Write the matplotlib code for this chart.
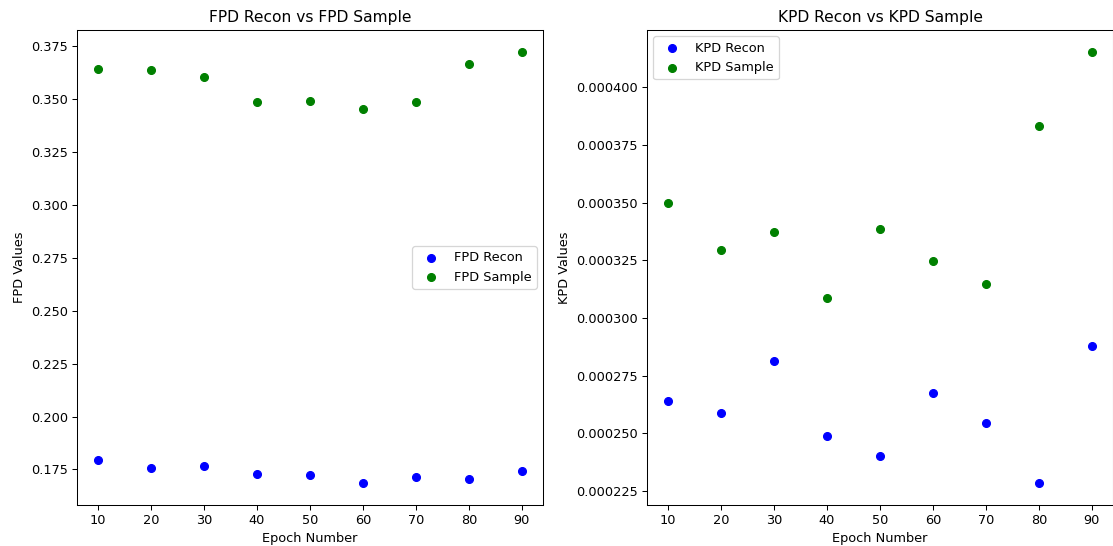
import matplotlib
matplotlib.use('Agg')
import matplotlib.pyplot as plt

epochs = [10, 20, 30, 40, 50, 60, 70, 80, 90]

fpd_recon = [0.1794, 0.1755, 0.1768, 0.1728, 0.1723, 0.1684, 0.1715, 0.1707, 0.1741]
fpd_sample = [0.3643, 0.3635, 0.3604, 0.3484, 0.3492, 0.3453, 0.3484, 0.3666, 0.3724]

kpd_recon = [0.0002642, 0.0002589, 0.0002814, 0.0002488, 0.0002401,
             0.0002675, 0.0002546, 0.0002283, 0.0002879]
kpd_sample = [0.0003499, 0.0003296, 0.0003375, 0.0003087, 0.0003384,
              0.0003246, 0.0003148, 0.0003834, 0.0004155]

# original looks like a slightly downscaled render, so use a lower dpi
DPI = 93
W, H = 1113, 546
fig = plt.figure(figsize=(W / DPI, H / DPI), dpi=DPI)

# axes placed in pixel terms to match the cropped original
ax1 = fig.add_axes([77 / W, (H - 505) / H, 466 / W, 475 / H])
ax2 = fig.add_axes([647 / W, (H - 505) / H, 466 / W, 475 / H])

ax1.scatter(epochs, fpd_recon, color='blue', label='FPD Recon')
ax1.scatter(epochs, fpd_sample, color='green', label='FPD Sample')
ax1.set_title('FPD Recon vs FPD Sample')
ax1.set_xlabel('Epoch Number')
ax1.set_ylabel('FPD Values')
ax1.legend(loc='center right')

ax2.scatter(epochs, kpd_recon, color='blue', label='KPD Recon')
ax2.scatter(epochs, kpd_sample, color='green', label='KPD Sample')
ax2.set_title('KPD Recon vs KPD Sample')
ax2.set_xlabel('Epoch Number')
ax2.set_ylabel('KPD Values')
ax2.legend(loc='upper left')

fig.savefig('out.png', dpi=DPI)
